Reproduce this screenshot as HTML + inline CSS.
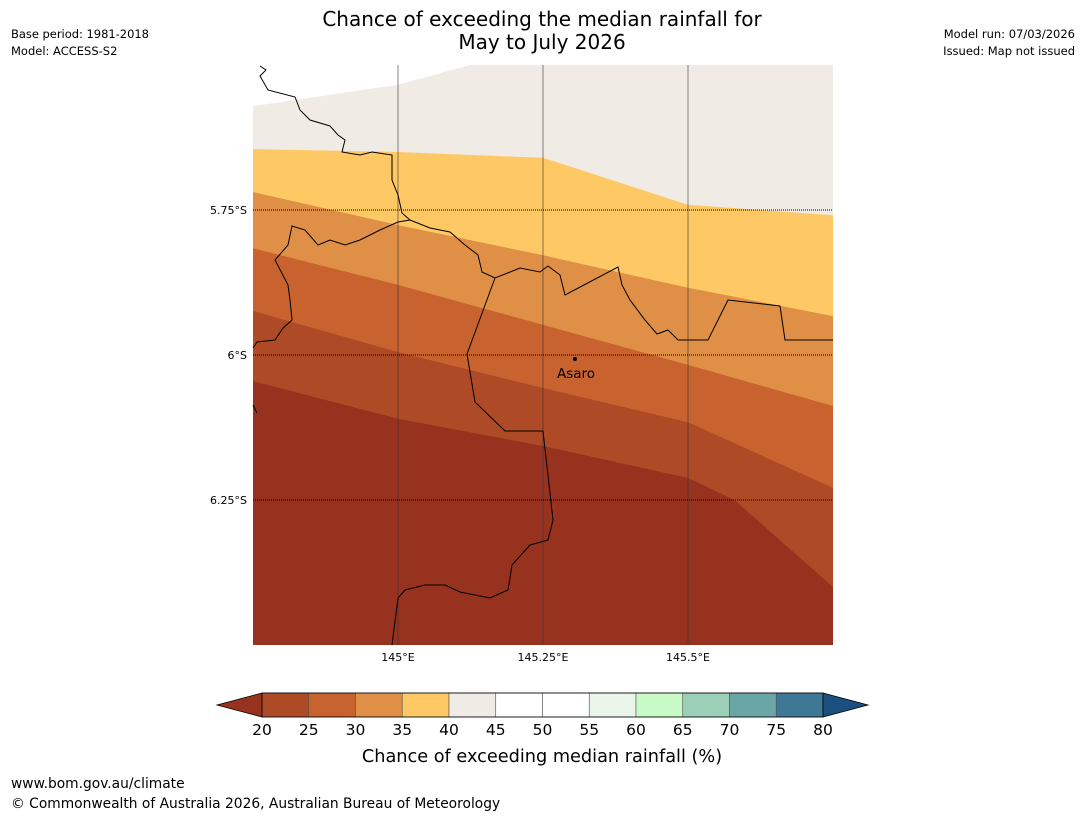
<!DOCTYPE html>
<html><head><meta charset="utf-8"><style>
body{margin:0;background:#fff;width:1085px;height:816px;overflow:hidden;font-family:"Liberation Sans","DejaVu Sans",sans-serif}
svg text{font-family:"DejaVu Sans","Liberation Sans",sans-serif}
</style></head><body>
<svg id="chart" width="1085" height="816" xmlns="http://www.w3.org/2000/svg">
<text x="542" y="26" text-anchor="middle" font-size="20">Chance of exceeding the median rainfall for</text>
<text x="542" y="49" text-anchor="middle" font-size="20">May to July 2026</text>
<text x="11" y="38" font-size="11.5" textLength="138">Base period: 1981-2018</text>
<text x="11" y="55" font-size="11.5">Model: ACCESS-S2</text>
<text x="1075" y="38" font-size="11.5" text-anchor="end">Model run: 07/03/2026</text>
<text x="1075" y="55" font-size="11.5" text-anchor="end">Issued: Map not issued</text>
<g id="map"></g>
<g id="cbar"></g>
<text x="542" y="762" text-anchor="middle" font-size="17.7">Chance of exceeding median rainfall (%)</text>
<text x="11" y="788" font-size="13.8">www.bom.gov.au/climate</text>
<text x="11" y="808" font-size="13.8">© Commonwealth of Australia 2026, Australian Bureau of Meteorology</text>
</svg>
<script>
// Map extent / data
const lonTicks=[145,145.25,145.5];
const lonLabels=["145°E","145.25°E","145.5°E"];
const latTicks=[5.75,6,6.25];
const latLabels=["5.75°S","6°S","6.25°S"];
const bandColors=["#f0ebe5","#fec965","#e09046","#c8622f","#ae4a25","#97321e"];
const boundaryLons=[[144.75,145,145.25,145.5,145.75],[144.75,145,145.25,145.5,145.75],[144.75,145,145.25,145.5,145.75],[144.75,145,145.25,145.5,145.75],[144.75,145,145.25,145.5,145.58,145.75]];
const boundaryLats=[[5.645,5.65,5.66,5.741,5.759],[5.719,5.776,5.828,5.884,5.933],[5.816,5.879,5.948,6.017,6.088],[5.924,5.995,6.057,6.116,6.229],[6.045,6.110,6.157,6.212,6.25,6.4]];
const topLons=[144.75,145,145.124];
const topLats=[5.571,5.534,5.5];
// Colorbar data
const cbLevels=[20,25,30,35,40,45,50,55,60,65,70,75,80];
const cbColors=["#ae4a25","#c8622f","#e09046","#fec965","#f0ebe5","#ffffff","#ffffff","#eaf5ea","#c8fac8","#9ccfb8","#6aa6a6","#3d7896"];
const cbLow="#97321e", cbHigh="#1a4f80";

const NS="http://www.w3.org/2000/svg";
const X0=253,X1=833,Y0=65,Y1=645;
const xs=l=>X0+(l-144.75)/1*(X1-X0);
const ys=l=>Y0+(l-5.5)/1*(Y1-Y0);
function mk(p,t,a){const e=document.createElementNS(NS,t);for(const k in a)e.setAttribute(k,a[k]);p.appendChild(e);return e;}
const map=document.getElementById('map');
const bg=mk(map,'rect',{x:X0,y:Y0,width:X1-X0,height:Y1-Y0,fill:bandColors[0]});


boundaryLats.forEach((lats,i)=>{
  let d='M'+boundaryLons[i].map((lo,j)=>xs(lo)+','+ys(lats[j])).join(' L');
  d+=' L'+X1+','+Y1+' L'+X0+','+Y1+' Z';
  const p=mk(map,'path',{d:d,fill:bandColors[i+1]});
  
  
});
let td='M'+X0+','+Y0+' L'+topLons.map((lo,j)=>xs(lo)+','+ys(topLats[j])).join(' L')+' Z';
const tp=mk(map,'path',{d:td,fill:'#ffffff'});


lonTicks.forEach((lo,i)=>{
  const l=mk(map,'line',{x1:xs(lo),x2:xs(lo),y1:Y0,y2:Y1,stroke:'#333','stroke-width':1,'stroke-opacity':0.6});
  
  
  const t=mk(map,'text',{x:xs(lo),y:661,'text-anchor':'middle','font-size':11});
  t.textContent=lonLabels[i];
  
  
});
latTicks.forEach((la,i)=>{
  const l=mk(map,'line',{x1:X0,x2:X1,y1:ys(la),y2:ys(la),stroke:'#000','stroke-width':1,'stroke-dasharray':'1,1'});
  
  
  const t=mk(map,'text',{x:247,y:ys(la)+4,'text-anchor':'end','font-size':11});
  t.textContent=latLabels[i];
  
  
});
const b1=mk(map,'path',{fill:'none',stroke:'#000','stroke-width':1,d:'M260,66 L266,70 L260,76 L268,90 L295,97 L300,110 L310,120 L330,126 L338,135 L345,140 L342,152 L360,155 L372,152 L392,155 L392,180 L398,195 L402,213 L410,220 L398,222 L380,230 L360,240 L345,245 L330,240 L318,245 L305,230 L292,226 L288,245 L275,260 L288,285 L290,300 L292,320 L283,328 L275,340 L257,342 L253,348'});


const b2=mk(map,'path',{fill:'none',stroke:'#000','stroke-width':1,d:'M410,220 L430,228 L450,232 L465,245 L478,255 L482,272 L495,278 L520,268 L540,272 L548,266 L560,275 L565,295 L618,267 L622,285 L630,300 L645,320 L657,334 L668,330 L678,340 L708,340 L728,300 L780,306 L785,340 L833,340'});


const b3=mk(map,'path',{fill:'none',stroke:'#000','stroke-width':1,d:'M495,278 L467,354 L475,402 L505,431 L543,431 L553,520 L548,540 L530,545 L512,565 L508,590 L490,598 L460,592 L445,585 L425,585 L405,590 L398,598 L392,645'});


const b4=mk(map,'path',{fill:'none',stroke:'#000','stroke-width':1,d:'M253,405 L257,413'});


const dot=mk(map,'circle',{cx:575,cy:359,r:2,fill:'#000'});


const at=mk(map,'text',{x:576,y:378,'text-anchor':'middle','font-size':13.5});
at.textContent='Asaro';


const cb=document.getElementById('cbar');
const CX0=262,CX1=823,CY0=693,CY1=717;
const cw=(CX1-CX0)/cbColors.length;
const lt=mk(cb,'polygon',{points:`${CX0},${CY0} 217,${(CY0+CY1)/2} ${CX0},${CY1}`,fill:cbLow,stroke:'#000','stroke-width':0.8});


const rt=mk(cb,'polygon',{points:`${CX1},${CY0} 868,${(CY0+CY1)/2} ${CX1},${CY1}`,fill:cbHigh,stroke:'#000','stroke-width':0.8});


cbColors.forEach((c,i)=>{
  const r=mk(cb,'rect',{x:CX0+i*cw,y:CY0,width:cw,height:CY1-CY0,fill:c,stroke:'#555','stroke-width':0.6});
  
  
});
const fr=mk(cb,'rect',{x:CX0,y:CY0,width:CX1-CX0,height:CY1-CY0,fill:'none',stroke:'#000','stroke-width':0.8});


cbLevels.forEach((v,i)=>{
  const t=mk(cb,'text',{x:CX0+i*cw,y:735,'text-anchor':'middle','font-size':15.5});
  t.textContent=v;
  
  
});
</script>
</body></html>
